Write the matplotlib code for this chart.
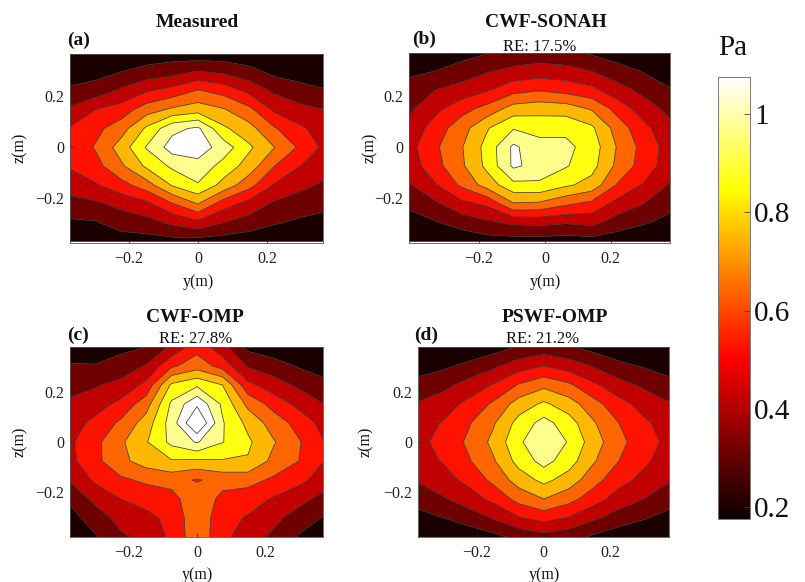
import numpy as np
import matplotlib
matplotlib.use("Agg")
import matplotlib.pyplot as plt
from matplotlib.colors import Normalize

plt.rcParams["font.family"] = ["Liberation Serif", "DejaVu Serif"]

W, H = 805, 582

# sampling positions (m)
z_ab = [0.37, 0.296, 0.222, 0.148, 0.074, 0.0, -0.074, -0.148, -0.222, -0.296, -0.37]
z_cd = [0.38, 0.304, 0.228, 0.152, 0.076, 0.0, -0.076, -0.152, -0.228, -0.304, -0.38]
y_a = [-0.37, -0.296, -0.222, -0.148, -0.074, 0.0, 0.074, 0.148, 0.222, 0.296, 0.37]
y_b = [-0.413, -0.334, -0.254, -0.175, -0.096, -0.017, 0.063, 0.142, 0.221, 0.301, 0.38]
y_cd = [-0.375, -0.3, -0.225, -0.15, -0.075, 0.0, 0.075, 0.15, 0.225, 0.3, 0.375]

# sound pressure amplitude (Pa), rows from top (z>0) to bottom
p_measured = [
    [0.18, 0.20, 0.22, 0.24, 0.25, 0.23, 0.24, 0.22, 0.18, 0.17, 0.15],
    [0.25, 0.27, 0.31, 0.35, 0.38, 0.43, 0.40, 0.35, 0.28, 0.26, 0.22],
    [0.33, 0.36, 0.44, 0.52, 0.57, 0.65, 0.60, 0.50, 0.40, 0.35, 0.32],
    [0.44, 0.53, 0.58, 0.70, 0.77, 0.81, 0.76, 0.67, 0.51, 0.45, 0.42],
    [0.54, 0.61, 0.70, 0.88, 1.05, 1.10, 0.88, 0.79, 0.65, 0.55, 0.47],
    [0.56, 0.65, 0.80, 0.98, 1.13, 1.14, 1.03, 0.88, 0.75, 0.62, 0.50],
    [0.54, 0.60, 0.73, 0.88, 0.99, 1.04, 0.93, 0.81, 0.64, 0.53, 0.46],
    [0.47, 0.52, 0.60, 0.70, 0.87, 0.96, 0.82, 0.68, 0.52, 0.45, 0.40],
    [0.38, 0.40, 0.45, 0.50, 0.63, 0.75, 0.58, 0.49, 0.40, 0.36, 0.34],
    [0.29, 0.30, 0.36, 0.38, 0.44, 0.50, 0.42, 0.37, 0.32, 0.29, 0.27],
    [0.20, 0.22, 0.25, 0.26, 0.27, 0.26, 0.25, 0.24, 0.22, 0.20, 0.20],
]
p_sonah = [
    [0.20, 0.22, 0.26, 0.30, 0.33, 0.35, 0.33, 0.29, 0.24, 0.19, 0.16],
    [0.29, 0.31, 0.36, 0.41, 0.45, 0.47, 0.46, 0.42, 0.36, 0.30, 0.24],
    [0.35, 0.42, 0.46, 0.52, 0.60, 0.63, 0.60, 0.56, 0.46, 0.39, 0.32],
    [0.40, 0.50, 0.60, 0.68, 0.80, 0.82, 0.81, 0.74, 0.60, 0.47, 0.39],
    [0.45, 0.58, 0.70, 0.85, 0.96, 0.93, 0.94, 0.88, 0.70, 0.56, 0.45],
    [0.49, 0.62, 0.74, 0.90, 1.10, 1.01, 1.00, 0.92, 0.74, 0.60, 0.48],
    [0.47, 0.60, 0.73, 0.89, 1.10, 1.04, 0.98, 0.90, 0.72, 0.59, 0.47],
    [0.41, 0.52, 0.66, 0.80, 0.94, 0.95, 0.88, 0.82, 0.63, 0.52, 0.41],
    [0.33, 0.40, 0.50, 0.55, 0.74, 0.73, 0.66, 0.61, 0.49, 0.42, 0.34],
    [0.27, 0.30, 0.35, 0.40, 0.44, 0.45, 0.43, 0.45, 0.37, 0.32, 0.28],
    [0.20, 0.22, 0.24, 0.26, 0.26, 0.26, 0.25, 0.26, 0.24, 0.22, 0.19],
]
p_omp = [
    [0.20, 0.22, 0.28, 0.31, 0.44, 0.60, 0.46, 0.28, 0.24, 0.21, 0.18],
    [0.33, 0.32, 0.36, 0.43, 0.62, 0.70, 0.60, 0.41, 0.36, 0.30, 0.26],
    [0.38, 0.41, 0.45, 0.56, 0.88, 0.95, 0.86, 0.56, 0.47, 0.40, 0.34],
    [0.44, 0.48, 0.56, 0.70, 0.99, 1.17, 0.95, 0.72, 0.60, 0.50, 0.42],
    [0.48, 0.56, 0.66, 0.80, 1.02, 1.32, 0.98, 0.83, 0.70, 0.60, 0.49],
    [0.51, 0.61, 0.73, 0.85, 1.00, 1.09, 0.975, 0.88, 0.76, 0.65, 0.53],
    [0.50, 0.61, 0.72, 0.80, 0.85, 0.84, 0.85, 0.85, 0.72, 0.64, 0.53],
    [0.43, 0.55, 0.62, 0.66, 0.68, 0.63, 0.68, 0.68, 0.62, 0.56, 0.48],
    [0.33, 0.45, 0.53, 0.57, 0.60, 0.72, 0.61, 0.58, 0.52, 0.46, 0.38],
    [0.27, 0.36, 0.46, 0.50, 0.56, 0.72, 0.57, 0.52, 0.45, 0.37, 0.30],
    [0.22, 0.30, 0.40, 0.46, 0.55, 0.72, 0.56, 0.47, 0.40, 0.30, 0.24],
]
p_pswf = [
    [0.17, 0.19, 0.22, 0.26, 0.32, 0.35, 0.32, 0.27, 0.23, 0.20, 0.17],
    [0.26, 0.29, 0.34, 0.40, 0.48, 0.53, 0.48, 0.41, 0.34, 0.30, 0.26],
    [0.35, 0.39, 0.46, 0.54, 0.65, 0.72, 0.66, 0.55, 0.46, 0.40, 0.35],
    [0.43, 0.48, 0.56, 0.66, 0.80, 0.88, 0.80, 0.68, 0.57, 0.49, 0.43],
    [0.48, 0.54, 0.63, 0.74, 0.90, 1.01, 0.91, 0.76, 0.64, 0.55, 0.48],
    [0.50, 0.57, 0.66, 0.78, 0.95, 1.07, 0.96, 0.80, 0.67, 0.58, 0.50],
    [0.48, 0.54, 0.63, 0.74, 0.90, 1.01, 0.91, 0.76, 0.64, 0.55, 0.48],
    [0.43, 0.49, 0.56, 0.67, 0.80, 0.89, 0.81, 0.68, 0.57, 0.50, 0.43],
    [0.36, 0.41, 0.48, 0.56, 0.68, 0.75, 0.68, 0.58, 0.48, 0.42, 0.36],
    [0.27, 0.31, 0.36, 0.43, 0.52, 0.57, 0.52, 0.44, 0.37, 0.32, 0.27],
    [0.18, 0.21, 0.24, 0.28, 0.34, 0.38, 0.35, 0.29, 0.24, 0.21, 0.18],
]

titles = ["Measured", "CWF-SONAH", "CWF-OMP", "PSWF-OMP"]
tags = ["(a)", "(b)", "(c)", "(d)"]
errors = [None, "RE: 17.5%", "RE: 27.8%", "RE: 21.2%"]

levels = [0.10, 0.31, 0.42, 0.53, 0.64, 0.75, 0.86, 0.97, 1.08, 1.19, 1.60]
clim = (0.176, 1.075)
cmap = matplotlib.colormaps["hot"]
norm = Normalize(*clim)
# each band takes the colour of its lower level (lowest band drawn near black)
band_colors = [cmap(norm(0.2))] + [cmap(min(norm(l), 1.0)) for l in levels[1:-1]]

fig = plt.figure(figsize=(W / 100, H / 100), dpi=100)


def px_axes(l, t, r, b):
    return fig.add_axes([l / W, 1 - b / H, (r - l) / W, (b - t) / H])


def ftext(x, y, s, **kw):
    fig.text(x / W, 1 - y / H, s, **kw)


panels = [
    # box (px), y grid, z grid, field, xlim, ylim
    ((70, 54, 323, 243), y_a, z_ab, p_measured, (-0.37, 0.362), (-0.375, 0.366)),
    ((409, 53, 670, 243), y_b, z_ab, p_sonah, (-0.413, 0.38), (-0.375, 0.366)),
    ((70, 347, 323, 537), y_cd, z_cd, p_omp, (-0.374, 0.371), (-0.38, 0.38)),
    ((418, 347, 669, 537), y_cd, z_cd, p_pswf, (-0.377, 0.375), (-0.38, 0.38)),
]

for box, yy, zz, p, xl, zl in panels:
    ax = px_axes(*box)
    Y, Z = np.meshgrid(yy, zz)
    P = np.array(p)
    ax.contourf(Y, Z, P, levels=levels, colors=band_colors, antialiased=True)
    ax.contour(Y, Z, P, levels=levels[1:-1], colors="#2a2a2a", linewidths=0.5)
    ax.set_xlim(xl)
    ax.set_ylim(zl)
    ax.set_xticks([-0.2, 0, 0.2])
    ax.set_xticklabels(["\u22120.2", "0", "0.2"])
    ax.set_yticks([-0.2, 0, 0.2])
    ax.set_yticklabels(["\u22120.2", "0", "0.2"])
    ax.tick_params(direction="in", length=3, width=0.5, color="#222222",
                   labelsize=11.5, labelcolor="#222222")
    ax.tick_params(axis="x", pad=6)
    ax.tick_params(axis="y", pad=4)
    for s in ax.spines.values():
        s.set_linewidth(0.6)
        s.set_color("#555555")

# panel titles, tags and axis labels
txt = dict(color="#111111")
ftext(197, 27, titles[0], ha="center", va="baseline", fontsize=14, fontweight="bold", **txt)
ftext(546, 27, titles[1], ha="center", va="baseline", fontsize=14, fontweight="bold", **txt)
ftext(195, 322, titles[2], ha="center", va="baseline", fontsize=14, fontweight="bold", **txt)
ftext(555, 322, titles[3], ha="center", va="baseline", fontsize=14, fontweight="bold", **txt)

ftext(540, 51, errors[1], ha="center", va="baseline", fontsize=12, **txt)
ftext(196, 343, errors[2], ha="center", va="baseline", fontsize=12, **txt)
ftext(543, 343, errors[3], ha="center", va="baseline", fontsize=12, **txt)

ftext(67, 45, tags[0], ha="left", va="baseline", fontsize=14, fontweight="bold", **txt)
ftext(412, 44, tags[1], ha="left", va="baseline", fontsize=14, fontweight="bold", **txt)
ftext(67, 340, tags[2], ha="left", va="baseline", fontsize=14, fontweight="bold", **txt)
ftext(414, 340, tags[3], ha="left", va="baseline", fontsize=14, fontweight="bold", **txt)

for x, y in [(198, 282), (545, 282), (197, 575), (544, 575)]:
    ftext(x, y, "y(m)", ha="center", va="center", fontsize=11.5, **txt)
for x, y in [(20, 148), (370, 148), (20, 442), (366, 442)]:
    ftext(x, y, "z(m)", ha="center", va="center", rotation=90, fontsize=11.5, **txt)

# colour bar
cax = px_axes(718, 77, 750, 519)
sm = plt.cm.ScalarMappable(norm=norm, cmap=cmap)
cb = fig.colorbar(sm, cax=cax)
cb.set_ticks([0.2, 0.4, 0.6, 0.8, 1.0])
cb.set_ticklabels(["0.2", "0.4", "0.6", "0.8", "1"])
cb.ax.tick_params(direction="in", length=4, width=0.6, color="#444444",
                  labelsize=21, pad=3, labelcolor="#111111")
cb.outline.set_linewidth(0.7)
cb.outline.set_edgecolor("#777777")
ftext(733, 48, "Pa", ha="center", va="center", fontsize=21, **txt)

fig.savefig("out.png", dpi=100)
